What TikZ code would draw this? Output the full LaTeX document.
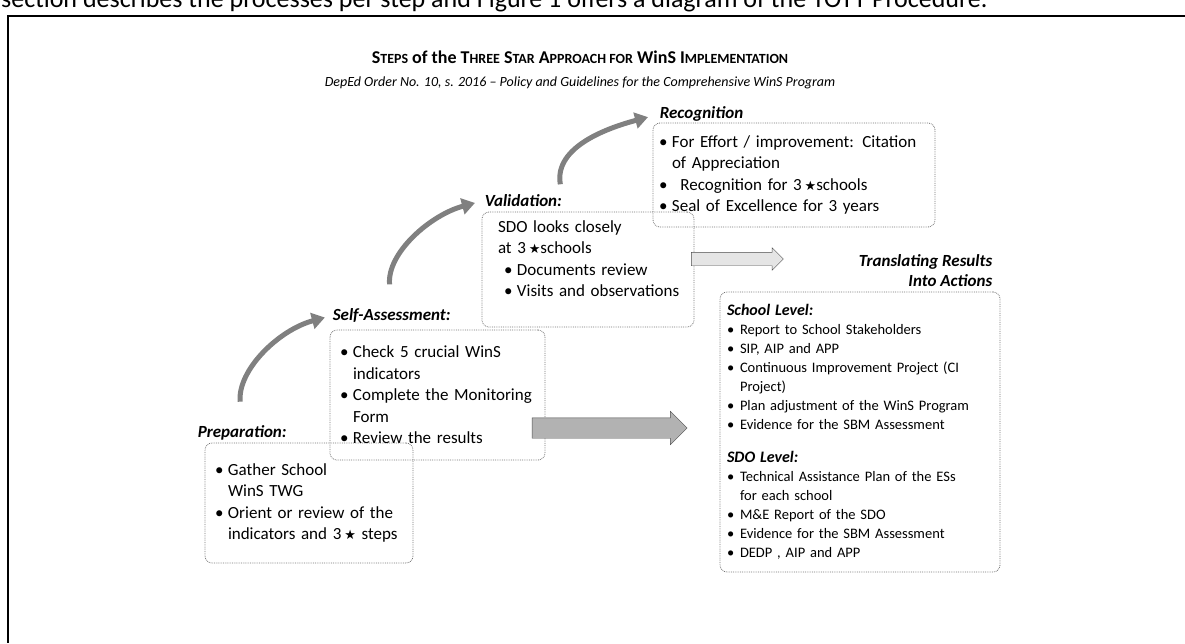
\documentclass[tikz,border=0pt]{standalone}
\usepackage{fontspec}
\setmainfont{Carlito}
\newfontfamily\starfont{DejaVu Sans}
\usetikzlibrary{positioning,arrows.meta,shapes.arrows}

\newcommand{\boxfont}{\fontsize{17}{21.5}\selectfont}
\newcommand{\lblfont}{\fontsize{17}{20}\selectfont\bfseries\itshape}
\newcommand{\actfont}{\fontsize{14.5}{19}\selectfont}
\newcommand{\smc}[1]{{\fontsize{14}{16}\selectfont #1}}
\newcommand{\bul}{\makebox[13pt][l]{\textbullet}}
\newcommand{\ind}{\hspace*{13pt}}
\newcommand{\blackstar}{{\starfont\fontsize{13}{13}\selectfont ★}}

\begin{document}
\begin{tikzpicture}[x=1pt,y=-1pt,
  stepbox/.style={draw=black!55,densely dotted,thick,rounded corners=7pt,
    align=left,inner xsep=10pt,inner ysep=4pt,font=\boxfont},
  lbl/.style={font=\lblfont,inner sep=0pt},
  curvarr/.style={line width=5pt,draw=black!50,-{Triangle[length=13pt,width=16pt]}},
  blockarr/.style={single arrow,draw=black!70,fill=black!30,inner xsep=0pt}
]
\useasboundingbox (0,0) rectangle (1185,643);
\clip (0,0) rectangle (1185,643);

% page text and frame
\node[anchor=base west,inner sep=0pt,font=\fontsize{26}{28}\selectfont] (pagetext) at (1,7)
  {section describes the processes per step and Figure 1 offers a diagram of the TOTT Procedure.};
\draw[line width=2pt] (7,16) -- (1185,16);
\draw[line width=1.2pt] (8,16) -- (8,643);

% heading
\node[font=\fontsize{18}{20}\selectfont\bfseries] (title) at (580,57)
  {S\smc{TEPS} of the T\smc{HREE} S\smc{TAR} A\smc{PPROACH FOR} WinS I\smc{MPLEMENTATION}};
\node[font=\fontsize{14}{16}\selectfont\itshape] (subtitle) at (580,83)
  {DepEd Order No. 10, s. 2016 -- Policy and Guidelines for the Comprehensive WinS Program};

% the steps
\node[stepbox,minimum width=208pt,minimum height=120pt,text width=188pt] (prep) at (309,503)
  {\bul Gather School\\ \ind WinS TWG\\ \bul Orient or review of the\\ \ind indicators and 3\,\blackstar{} steps};
\node[stepbox,minimum width=215pt,minimum height=130pt,text width=195pt] (self) at (437.5,395)
  {\bul Check 5 crucial WinS\\ \ind indicators\\ \bul Complete the Monitoring\\ \ind Form\\ \bul Review the results};
\node[stepbox,minimum width=212pt,minimum height=115pt,text width=196pt,inner xsep=8pt] (valid) at (588,269.5)
  {\hspace*{8pt}SDO looks closely\\ \hspace*{8pt}at 3\,\blackstar schools\\ \hspace*{14pt}\bul Documents review\\ \hspace*{14pt}\bul Visits and observations\\ \mbox{}};
\node[stepbox,minimum width=282pt,minimum height=104pt,text width=270pt,inner xsep=6pt] (recog) at (794,175)
  {\bul \mbox{For Effort / improvement: Citation}\\ \ind of Appreciation\\ \bul\, Recognition for 3\,\blackstar schools\\ \bul Seal of Excellence for 3 years};
\node[stepbox,minimum width=280pt,minimum height=280pt,text width=266pt,inner xsep=7pt,font=\actfont] (actions) at (860,432)
  {{\fontsize{16}{19}\selectfont\bfseries\itshape School Level:}\\
   \bul Report to School Stakeholders\\ \bul SIP, AIP and APP\\
   \bul Continuous Improvement Project (CI\\ \ind Project)\\
   \bul Plan adjustment of the WinS Program\\ \bul Evidence for the SBM Assessment\\[14pt]
   {\fontsize{16}{19}\selectfont\bfseries\itshape SDO Level:}\\
   \bul Technical Assistance Plan of the ESs\\ \ind for each school\\
   \bul M\&E Report of the SDO\\ \bul Evidence for the SBM Assessment\\ \bul DEDP , AIP and APP};

% labels
\node[lbl,above right=2pt and -7pt of prep.north west] (preplbl) {Preparation:};
\node[lbl,above right=7pt and 3pt of self.north west] (selflbl) {Self-Assessment:};
\node[lbl,above right=5pt and 3pt of valid.north west] (validlbl) {Validation:};
\node[lbl,above right=1pt and 7pt of recog.north west] (recoglbl) {Recognition};
\node[lbl,align=right,above left=5pt and 8pt of actions.north east] (actlbl) {Translating Results\\ Into Actions};

% arrows
\draw[curvarr,shorten <=24pt,shorten >=8pt] (preplbl.north) to[out=95,in=195] (selflbl.west);
\draw[curvarr,shorten <=24pt,shorten >=10pt] (selflbl.north) to[out=95,in=195] (validlbl.west);
\draw[curvarr,shorten <=10pt,shorten >=12pt] (validlbl.north east) to[out=100,in=195] (recoglbl.west);
\node[blockarr,minimum height=155pt,minimum width=33pt,inner ysep=10pt,single arrow head extend=6.5pt] (lowarr) at (604.5,428) {};
\node[blockarr,minimum height=92pt,minimum width=22pt,inner ysep=6.5pt,single arrow head extend=4.5pt,fill=black!10] (uparr) at (734,259) {};
\end{tikzpicture}
\end{document}
